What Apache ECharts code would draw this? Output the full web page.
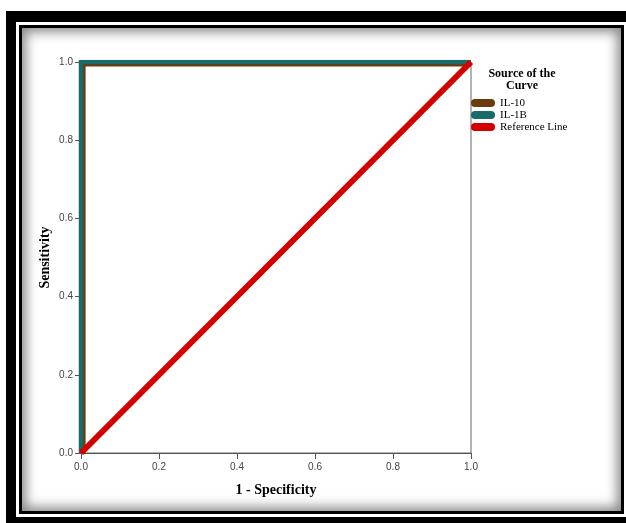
<!DOCTYPE html>
<html>
<head>
<meta charset="utf-8">
<script src="https://cdn.jsdelivr.net/npm/echarts@6/dist/echarts.min.js"></script>
<style>
  html, body { margin: 0; padding: 0; width: 626px; height: 523px; overflow: hidden; background: #fff; }
  #outer { position: absolute; left: 6px; top: 11px; width: 700px; height: 600px; background: #000; }
  #gap { position: absolute; left: 16px; top: 22px; width: 700px; height: 495px; background: #fff; }
  #inner {
    position: absolute; left: 19px; top: 25px; width: 605px; height: 489px;
    box-sizing: border-box; border: 3px solid #000; background: #fff;
    box-shadow: inset 0 0 12px 4px #8a8a8a;
  }
  #chart { position: absolute; left: 0; top: 0; width: 626px; height: 523px; z-index: 2; }
</style>
</head>
<body>
<div id="outer"></div>
<div id="gap"></div>
<div id="inner"></div>
<div id="chart"></div>
<script>
// ROC curves, x = 1 - specificity, y = sensitivity
let il10Points = [[0.006, 0], [0.006, 0.994], [1, 0.994]];
let il1bPoints = [[0, 0], [0, 1], [1, 1]];
let refPoints = [[0, 0], [1, 1]];

let seriesNames = ['IL-10', 'IL-1B', 'Reference Line'];
let seriesColors = ['#6b3a0e', '#186b69', '#d40000'];

document.addEventListener('DOMContentLoaded', function () {
  let chart = echarts.init(document.querySelector('#chart'));

  let serif = '"Liberation Serif", "Times New Roman", serif';
  let sans = '"Liberation Sans", Arial, sans-serif';
  let pill = 'path://M4,0 L20,0 A4,4 0 0 1 20,8 L4,8 A4,4 0 0 1 4,0 Z';

  let axisCommon = {
    type: 'value',
    min: 0,
    max: 1,
    interval: 0.2,
    nameLocation: 'middle',
    nameMoveOverlap: false,
    nameTextStyle: { fontFamily: serif, fontWeight: 'bold', fontSize: 14, color: '#000' },
    axisLine: { show: true, lineStyle: { color: '#555', width: 1 } },
    axisTick: { show: true, length: 6, lineStyle: { color: '#555' } },
    splitLine: { show: false },
    axisLabel: {
      fontFamily: sans, fontSize: 10, color: '#444',
      formatter: function (v) { return v.toFixed(1); }
    }
  };

  let option = {
    animation: false,
    title: {
      text: 'Source of the\nCurve',
      left: 517,
      top: 63,
      textAlign: 'center',
      textStyle: { fontFamily: serif, fontWeight: 'bold', fontSize: 12, lineHeight: 12, color: '#000' }
    },
    legend: {
      orient: 'vertical',
      left: 466,
      top: 92,
      itemWidth: 24,
      itemHeight: 8,
      itemGap: 0,
      textStyle: { fontFamily: serif, fontSize: 11, lineHeight: 12, color: '#000' },
      data: seriesNames.map(function (n) { return { name: n, icon: pill }; })
    },
    grid: {
      left: 81, top: 62, width: 390, height: 391,
      show: true, borderColor: '#666', borderWidth: 1, backgroundColor: 'transparent'
    },
    xAxis: Object.assign({}, axisCommon, {
      name: '1 - Specificity',
      nameGap: 30,
      axisLabel: Object.assign({}, axisCommon.axisLabel, { margin: 9 })
    }),
    yAxis: Object.assign({}, axisCommon, {
      name: 'Sensitivity',
      nameGap: 29,
      axisLabel: Object.assign({}, axisCommon.axisLabel, { margin: 8 })
    }),
    series: [
      { name: seriesNames[0], data: il10Points, width: 4.5 },
      { name: seriesNames[1], data: il1bPoints, width: 4.5 },
      { name: seriesNames[2], data: refPoints, width: 6 }
    ].map(function (s, i) {
      return {
        name: s.name,
        type: 'line',
        data: s.data,
        showSymbol: false,
        color: seriesColors[i],
        lineStyle: { color: seriesColors[i], width: s.width, cap: 'butt', join: 'miter' },
        z: 2 + i
      };
    })
  };

  chart.setOption(option);
});
</script>
</body>
</html>
